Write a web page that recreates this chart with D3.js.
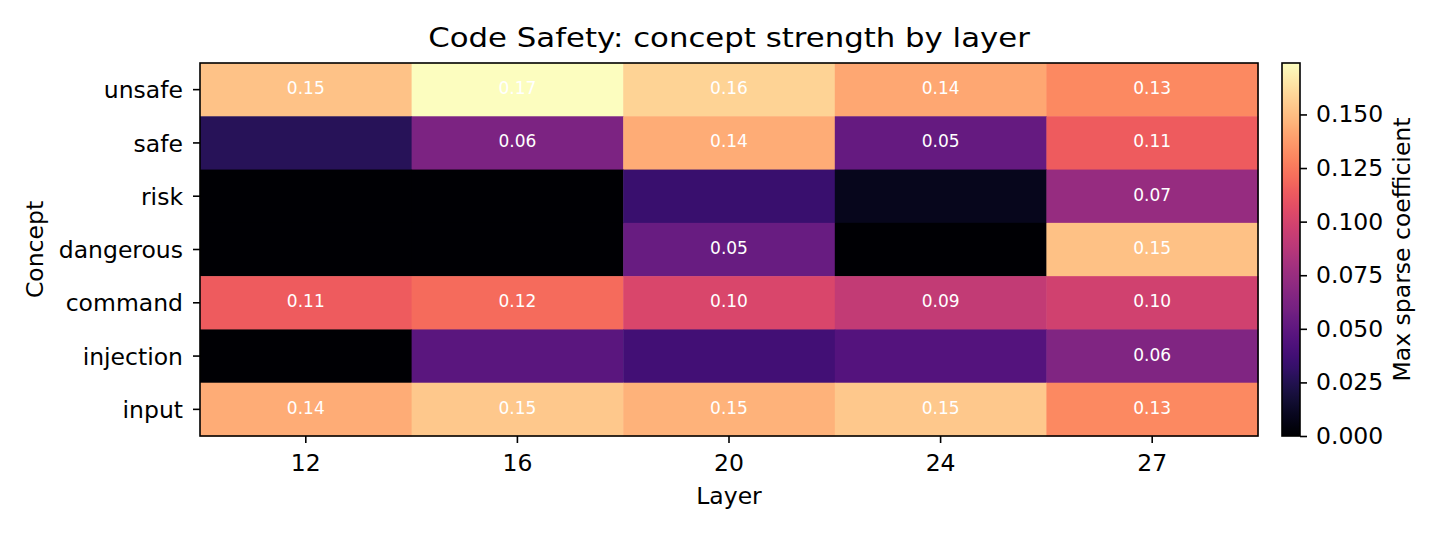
<!DOCTYPE html>
<html>
<head>
<meta charset="utf-8">
<title>Code Safety heatmap</title>
<style>
  body { margin: 0; background: #fff; }
  svg text { font-family: "DejaVu Sans", sans-serif; fill: #000; }
</style>
</head>
<body>
<div id="chart"></div>
<script src="https://d3js.org/d3.v7.min.js"></script>
<script>
// data
const concepts = ["unsafe", "safe", "risk", "dangerous", "command", "injection", "input"]
const layers = ["12", "16", "20", "24", "27"]
const unsafeVals    = [0.152, 0.174, 0.158, 0.142, 0.131]
const safeVals      = [0.027, 0.063, 0.144, 0.053, 0.114]
const riskVals      = [0.000, 0.000, 0.034, 0.009, 0.074]
const dangerousVals = [0.000, 0.000, 0.054, 0.000, 0.151]
const commandVals   = [0.114, 0.120, 0.102, 0.092, 0.098]
const injectionVals = [0.000, 0.048, 0.038, 0.045, 0.064]
const inputVals     = [0.144, 0.154, 0.146, 0.154, 0.131]
const colorbarTicks = [0, 0.025, 0.05, 0.075, 0.1, 0.125, 0.15]
const labelThreshold = 0.05

const rows = [unsafeVals, safeVals, riskVals, dangerousVals, commandVals, injectionVals, inputVals]
let cells = []
rows.forEach((r, i) => r.forEach((v, j) => cells.push({ concept: concepts[i], layer: layers[j], value: v })))

const W = 1445, H = 535
const plot = { left: 200, right: 1258, top: 63, bottom: 436 }
const cbar = { left: 1282, right: 1300 }
const fs = 23.5   // tick / label font size

const svg = d3.select("#chart").append("svg")
    .attr("width", W).attr("height", H)

const x = d3.scaleBand().domain(layers).range([plot.left, plot.right])
const y = d3.scaleBand().domain(concepts).range([plot.top, plot.bottom])
const vmax = d3.max(cells, d => d.value)
const color = d3.scaleSequential(d3.interpolateMagma).domain([0, vmax])

// cells
svg.append("g").selectAll("rect")
    .data(cells)
    .join("rect")
    .attr("x", d => x(d.layer))
    .attr("y", d => y(d.concept))
    .attr("width", x.bandwidth() + 0.5)
    .attr("height", y.bandwidth() + 0.5)
    .attr("fill", d => color(d.value))

// annotations
svg.append("g").selectAll("text")
    .data(cells.filter(d => d.value >= labelThreshold))
    .join("text")
    .attr("x", d => x(d.layer) + x.bandwidth() / 2)
    .attr("y", d => y(d.concept) + y.bandwidth() / 2 + 4.5)
    .attr("text-anchor", "middle")
    .style("font-size", "17px")
    .style("fill", "#fff")
    .text(d => d3.format(".2f")(d.value))

// frame
svg.append("rect")
    .attr("x", plot.left).attr("y", plot.top)
    .attr("width", plot.right - plot.left).attr("height", plot.bottom - plot.top)
    .attr("fill", "none").attr("stroke", "#000").attr("stroke-width", 1.6)

// x axis
const xAxis = svg.append("g")
    .attr("transform", `translate(0,${plot.bottom})`)
    .call(d3.axisBottom(x).tickSize(7).tickPadding(11).tickSizeOuter(0))
xAxis.select(".domain").remove()
xAxis.selectAll("line").attr("stroke-width", 1.6)
xAxis.selectAll("text").style("font-size", fs + "px").attr("dy", "0.71em")

// y axis
const yAxis = svg.append("g")
    .attr("transform", `translate(${plot.left},0)`)
    .call(d3.axisLeft(y).tickSize(7).tickPadding(10).tickSizeOuter(0))
yAxis.select(".domain").remove()
yAxis.selectAll("line").attr("stroke-width", 1.6)
yAxis.selectAll("text").style("font-size", fs + "px").attr("dy", "0.366em")

// titles
const title = svg.append("text")
    .attr("x", (plot.left + plot.right) / 2).attr("y", 47)
    .attr("text-anchor", "middle")
    .style("font-size", "27px")
    .text("Code Safety: concept strength by layer")
// reference title is drawn a little wider than the plain font
title.attr("textLength", title.node().getComputedTextLength() * 1.14)
    .attr("lengthAdjust", "spacingAndGlyphs")

svg.append("text")
    .attr("x", (plot.left + plot.right) / 2).attr("y", 504)
    .attr("text-anchor", "middle")
    .style("font-size", fs + "px")
    .text("Layer")

svg.append("text")
    .attr("transform", `translate(43,${(plot.top + plot.bottom) / 2}) rotate(-90)`)
    .attr("text-anchor", "middle")
    .style("font-size", fs + "px")
    .text("Concept")

// colorbar
const cy = d3.scaleLinear().domain([0, vmax]).range([plot.bottom, plot.top])
const grad = svg.append("defs").append("linearGradient")
    .attr("id", "cbgrad").attr("x1", 0).attr("y1", 1).attr("x2", 0).attr("y2", 0)
grad.selectAll("stop")
    .data(d3.range(0, 1.0001, 0.02))
    .join("stop")
    .attr("offset", d => d)
    .attr("stop-color", d => d3.interpolateMagma(d))

svg.append("rect")
    .attr("x", cbar.left).attr("y", plot.top)
    .attr("width", cbar.right - cbar.left).attr("height", plot.bottom - plot.top)
    .attr("fill", "url(#cbgrad)")
    .attr("stroke", "#000").attr("stroke-width", 1.6)

const cAxis = svg.append("g")
    .attr("transform", `translate(${cbar.right},0)`)
    .call(d3.axisRight(cy).tickValues(colorbarTicks).tickFormat(d3.format(".3f")).tickSize(7).tickPadding(9))
cAxis.select(".domain").remove()
cAxis.selectAll("line").attr("stroke-width", 1.6)
cAxis.selectAll("text").style("font-size", fs + "px")

svg.append("text")
    .attr("transform", `translate(1410,${(plot.top + plot.bottom) / 2}) rotate(-90)`)
    .attr("text-anchor", "middle")
    .style("font-size", fs + "px")
    .text("Max sparse coefficient")
</script>
</body>
</html>
